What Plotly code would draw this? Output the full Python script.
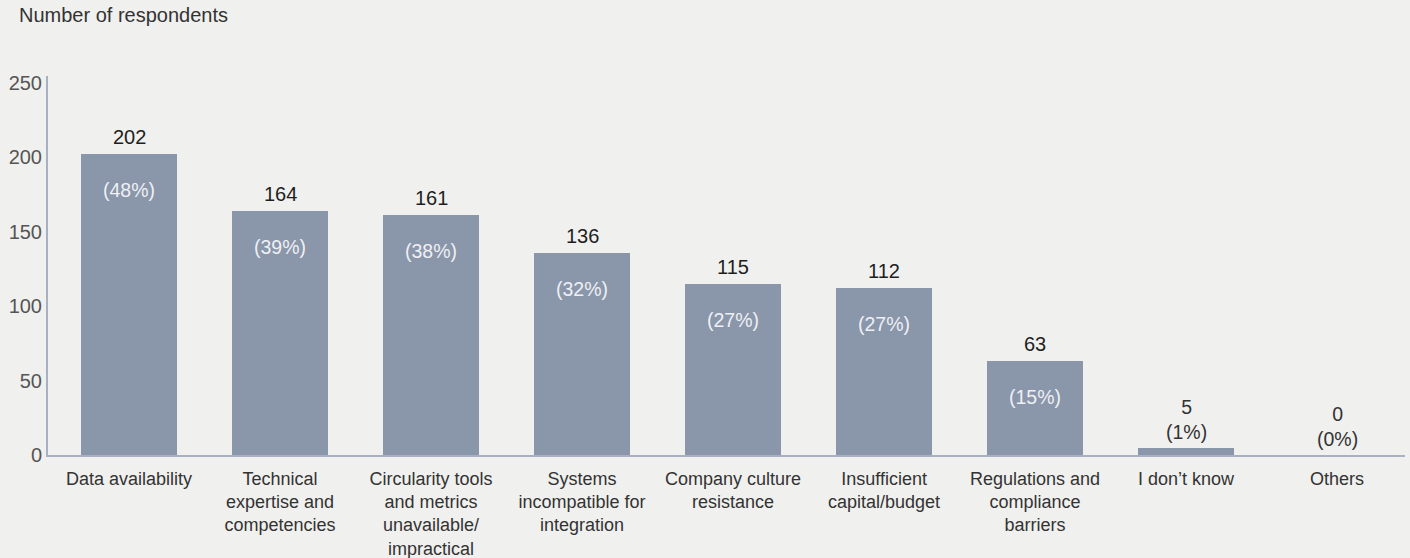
import plotly.graph_objects as go

categories = [
    "Data availability",
    "Technical<br>expertise and<br>competencies",
    "Circularity tools<br>and metrics<br>unavailable/<br>impractical",
    "Systems<br>incompatible for<br>integration",
    "Company culture<br>resistance",
    "Insufficient<br>capital/budget",
    "Regulations and<br>compliance<br>barriers",
    "I don\u2019t know",
    "Others",
]
counts = [202, 164, 161, 136, 115, 112, 63, 5, 0]
percents = [48, 39, 38, 32, 27, 27, 15, 1, 0]
y_ticks = [0, 50, 100, 150, 200, 250]

FONT = "Liberation Sans, Arial, Helvetica, sans-serif"
BG = "#f0f0ee"
BAR = "#8a96aa"
AXIS = "#a9b0c2"

x_idx = list(range(len(categories)))

fig = go.Figure()
fig.add_trace(go.Bar(
    x=x_idx, y=counts, width=0.636,
    marker=dict(color=BAR, line=dict(width=0)),
    hoverinfo="skip",
))

annotations = []
for i, (c, p) in enumerate(zip(counts, percents)):
    if c >= 20:
        annotations.append(dict(
            x=i, y=c, xref="x", yref="y", text=str(c), showarrow=False,
            yanchor="bottom", yshift=4, font=dict(size=20, color="#1e1e1e", family=FONT)))
        annotations.append(dict(
            x=i, y=c, xref="x", yref="y", text=f"({p}%)", showarrow=False,
            yanchor="middle", yshift=-36, font=dict(size=19.5, color="#eef0f4", family=FONT)))
    else:
        annotations.append(dict(
            x=i, y=c, xref="x", yref="y", text=f"{c}<br>({p}%)", showarrow=False,
            yanchor="bottom", yshift=3, font=dict(size=19.5, color="#333333", family=FONT)))

W, H = 1410, 558
ml, mr, mt, mb = 48, 5, 76, 102.5
pw = W - ml - mr
ph = H - mt - mb

annotations.append(dict(
    x=(17 - ml) / pw, y=1 + (mt - 15) / ph, xref="paper", yref="paper",
    text="Number of respondents",
    showarrow=False, xanchor="left", yanchor="middle",
    font=dict(size=20, color="#333333", family=FONT)))

fig.update_layout(
    width=W, height=H,
    margin=dict(l=ml, r=mr, t=mt, b=mb, pad=0, autoexpand=False),
    paper_bgcolor=BG, plot_bgcolor=BG,
    showlegend=False,
    bargap=0,
    font=dict(family=FONT, size=18, color="#444444"),
    annotations=annotations,
    xaxis=dict(
        tickmode="array", tickvals=x_idx, ticktext=categories,
        range=[-0.537, 8.45], showgrid=False, zeroline=False,
        showline=True, linecolor=AXIS, linewidth=2, ticks="",
        ticklabelstandoff=6, automargin=False,
        tickfont=dict(size=18, color="#333333", family=FONT),
    ),
    yaxis=dict(
        range=[0, 254.7], tickvals=y_ticks, showgrid=False, zeroline=False,
        showline=True, linecolor=AXIS, linewidth=2, ticks="",
        automargin=False,
        tickfont=dict(size=20, color="#555555", family=FONT),
    ),
)

fig.write_html("out.html")
